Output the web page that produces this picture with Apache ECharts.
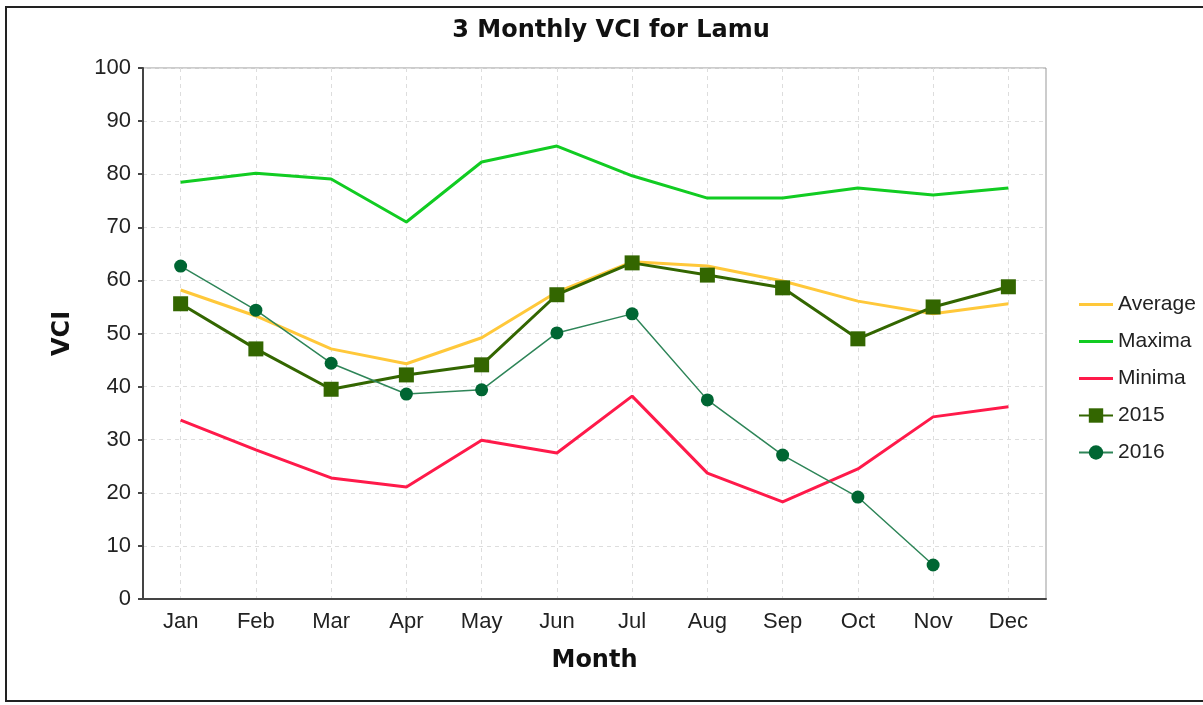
<!DOCTYPE html>
<html>
<head>
<meta charset="utf-8">
<script src="https://cdn.jsdelivr.net/npm/echarts@6/dist/echarts.min.js"></script>
<style>
  body { margin: 0; background: #fff; }
  #main { width: 1203px; height: 705px; }
  #frame { position: absolute; left: 5px; top: 6px; width: 1210px; height: 696px;
           border: 2px solid #222; box-sizing: border-box; pointer-events: none; }
</style>
</head>
<body>
<div id="main"></div>
<div id="frame"></div>
<script>
var months = ['Jan', 'Feb', 'Mar', 'Apr', 'May', 'Jun', 'Jul', 'Aug', 'Sep', 'Oct', 'Nov', 'Dec'];
var average = [58.2, 53.3, 47.1, 44.3, 49.2, 57.8, 63.5, 62.7, 59.9, 56.1, 53.7, 55.6];
var maxima = [78.5, 80.2, 79.1, 71.0, 82.3, 85.3, 79.7, 75.5, 75.5, 77.4, 76.1, 77.4];
var minima = [33.7, 28.1, 22.8, 21.1, 29.9, 27.5, 38.2, 23.7, 18.3, 24.5, 34.3, 36.2];
var y2015 = [55.6, 47.1, 39.5, 42.2, 44.1, 57.3, 63.3, 61.0, 58.6, 49.0, 55.0, 58.8];
var y2016 = [62.7, 54.4, 44.4, 38.6, 39.4, 50.1, 53.7, 37.5, 27.1, 19.2, 6.4, null];

var font = 'Liberation Sans, Arial, sans-serif';
var boldFont = 'DejaVu Sans, sans-serif';
var lineIcon = 'path://M0,0H34V3H0Z';

var myChart = echarts.init(document.getElementById('main'));
var option = {
    animation: false,
    textStyle: { fontFamily: font },
    title: {
        text: '3 Monthly VCI for Lamu',
        left: 606,
        textAlign: 'center',
        top: 14,
        textStyle: { fontSize: 24, fontWeight: 'bold', color: '#111', fontFamily: boldFont }
    },
    legend: {
        orient: 'vertical',
        left: 1073,
        top: 289,
        itemWidth: 34,
        itemHeight: 18,
        itemGap: 16,
        symbolKeepAspect: true,
        textStyle: { fontSize: 21, color: '#222', fontFamily: font },
        data: [
            { name: 'Average', icon: lineIcon },
            { name: 'Maxima', icon: lineIcon },
            { name: 'Minima', icon: lineIcon },
            '2015',
            '2016'
        ]
    },
    grid: {
        left: 143, top: 68, right: 157, bottom: 106,
        show: true, borderColor: '#999', borderWidth: 1
    },
    xAxis: {
        type: 'category',
        data: months,
        name: 'Month',
        nameLocation: 'middle',
        nameGap: 50,
        nameTextStyle: { fontSize: 24, fontWeight: 'bold', color: '#111', fontFamily: boldFont },
        axisLine: { lineStyle: { color: '#444', width: 2 } },
        axisTick: { alignWithLabel: true, length: 5, lineStyle: { color: '#444', width: 2 } },
        axisLabel: { fontSize: 22, color: '#222', margin: 12 },
        splitLine: { show: true, alignWithLabel: true, lineStyle: { color: '#ddd', type: [4, 4] } }
    },
    yAxis: {
        type: 'value',
        min: 0,
        max: 100,
        interval: 10,
        name: 'VCI',
        nameLocation: 'middle',
        nameGap: 68,
        nameTextStyle: { fontSize: 24, fontWeight: 'bold', color: '#111', fontFamily: boldFont },
        axisLine: { show: true, lineStyle: { color: '#444', width: 2 } },
        axisTick: { show: true, length: 5, lineStyle: { color: '#444', width: 2 } },
        axisLabel: { fontSize: 22, color: '#222', margin: 12 },
        splitLine: { show: true, lineStyle: { color: '#ddd', type: [4, 4] } }
    },
    series: [
        { name: 'Average', type: 'line', data: average, symbol: 'none',
          lineStyle: { color: '#FFC83A', width: 3 }, itemStyle: { color: '#FFC83A' } },
        { name: 'Maxima', type: 'line', data: maxima, symbol: 'none',
          lineStyle: { color: '#11CC22', width: 3 }, itemStyle: { color: '#11CC22' } },
        { name: 'Minima', type: 'line', data: minima, symbol: 'none',
          lineStyle: { color: '#FF1A4A', width: 3 }, itemStyle: { color: '#FF1A4A' } },
        { name: '2015', type: 'line', data: y2015, symbol: 'rect', symbolSize: 15,
          lineStyle: { color: '#336600', width: 3 }, itemStyle: { color: '#336600' } },
        { name: '2016', type: 'line', data: y2016, symbol: 'circle', symbolSize: 13,
          lineStyle: { color: '#2E8558', width: 1.5 }, itemStyle: { color: '#006633' } }
    ]
};
myChart.setOption(option);
</script>
</body>
</html>
